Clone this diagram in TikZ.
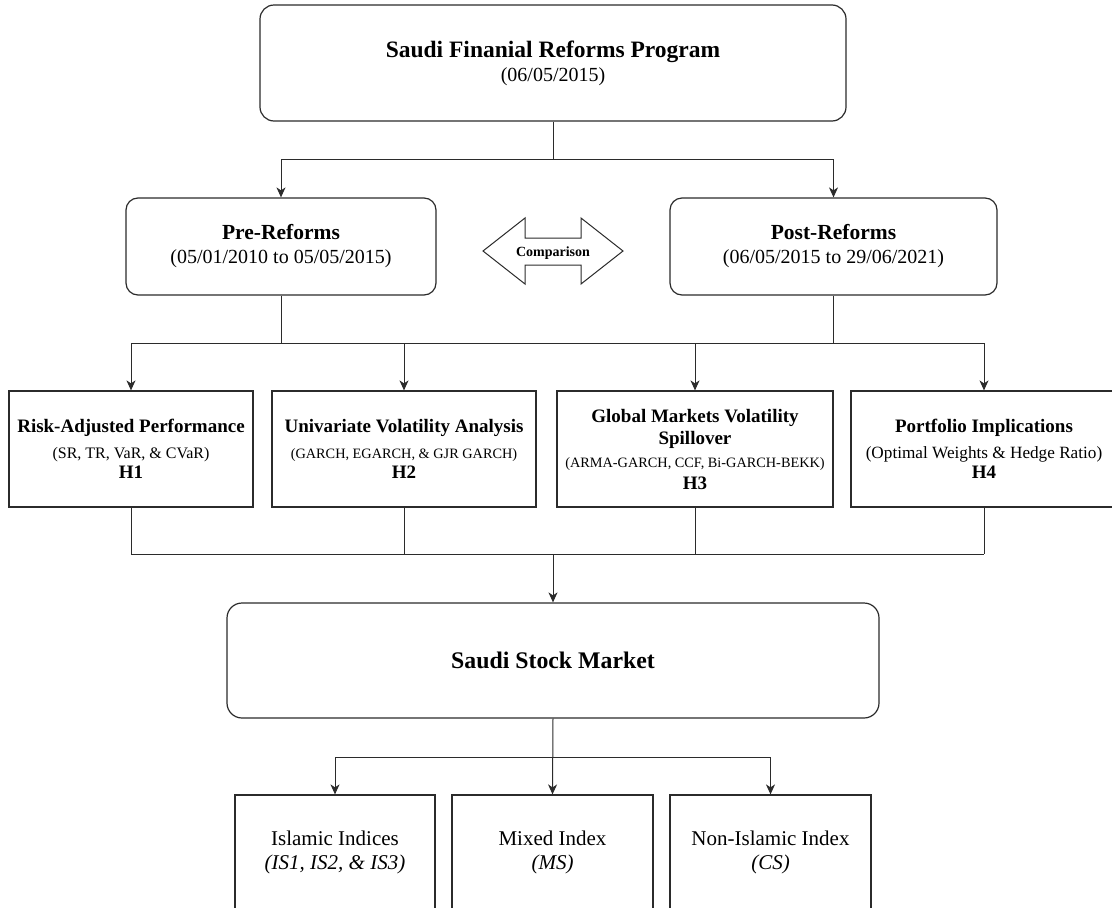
\documentclass[tikz,border=0pt]{standalone}
\usepackage{fontspec}
\setmainfont{Liberation Serif}
\usetikzlibrary{arrows.meta}
\definecolor{linec}{HTML}{2B2B2B}
\tikzset{
  box/.style={draw=linec, line width=1.2pt, fill=white, align=center, inner sep=0pt,
              font=\fontsize{19}{23}\selectfont},
  rbox/.style={box, rounded corners=14pt},
  conn/.style={draw=linec, line width=1pt},
  arr/.style={conn, -{Stealth[length=10pt,width=9pt,inset=3pt]}},
}
\newcommand{\hdln}[1]{{\bfseries #1}}
\newcommand{\subln}[2]{{\fontsize{#1}{23}\selectfont #2}}
\begin{document}
\begin{tikzpicture}[x=1pt,y=-1pt]
\useasboundingbox (0,0) rectangle (1112,908);
\clip (0,0) rectangle (1112,908);

% top
\node[rbox, minimum width=586pt, minimum height=116pt, font=\fontsize{23.5}{25}\selectfont] (top) at (553,63)
  {\hdln{Saudi Finanial Reforms Program}\\[-1pt]\subln{20}{(06/05/2015)}};

% pre / post
\node[rbox, rounded corners=12pt, minimum width=310pt, minimum height=97pt, font=\fontsize{21.5}{25}\selectfont] (pre) at (281,246.5)
  {\hdln{Pre-Reforms}\\[-1pt]\subln{20}{(05/01/2010 to 05/05/2015)}};
\node[rbox, rounded corners=12pt, minimum width=327pt, minimum height=97pt, font=\fontsize{21.5}{25}\selectfont] (post) at (833.5,246.5)
  {\hdln{Post-Reforms}\\[-1pt]\subln{20}{(06/05/2015 to 29/06/2021)}};

% comparison double arrow
\draw[draw=linec, line width=1pt, fill=white]
  (483,251) -- (525,218) -- (525,238) -- (581,238) -- (581,218) -- (623,251)
  -- (581,284) -- (581,265) -- (525,265) -- (525,284) -- cycle;
\node[font=\fontsize{14}{16}\selectfont\bfseries, inner sep=0pt] (cmp) at (553,253) {Comparison};

% four analysis boxes
\node[box, minimum width=244pt, minimum height=116pt] (r1) at (131,449)
  {\hdln{Risk-Adjusted Performance}\\[3pt]\subln{16}{(SR, TR, VaR, \& CVaR)}\\[-3pt]\hdln{H1}};
\node[box, minimum width=264pt, minimum height=116pt] (r2) at (404,449)
  {\hdln{Univariate Volatility Analysis}\\[3pt]\subln{14.3}{(GARCH, EGARCH, \& GJR GARCH)}\\[-3pt]\hdln{H2}};
\node[box, minimum width=276pt, minimum height=116pt] (r3) at (695,449)
  {\hdln{Global Markets Volatility}\\[-1pt]\hdln{Spillover}\\[0pt]\subln{14.3}{(ARMA-GARCH, CCF, Bi-GARCH-BEKK)}\\[-1pt]\hdln{H3}};
\node[box, minimum width=266pt, minimum height=116pt] (r4) at (984,449)
  {\hdln{Portfolio Implications}\\[3pt]\subln{17.2}{(Optimal Weights \& Hedge Ratio)}\\[-3pt]\hdln{H4}};

% stock market
\node[rbox, rounded corners=15pt, minimum width=652pt, minimum height=115pt, font=\fontsize{23.8}{26}\selectfont] (ssm) at (553,660.5)
  {\hdln{Saudi Stock Market}};

% bottom boxes (cut by the page edge)
\node[box, minimum width=200pt, minimum height=115pt, font=\fontsize{21}{24}\selectfont] (b1) at (335,852.5)
  {Islamic Indices\\{\itshape (IS1, IS2, \& IS3)}};
\node[box, minimum width=201pt, minimum height=115pt, font=\fontsize{21}{24}\selectfont] (b2) at (552.5,852.5)
  {Mixed Index\\{\itshape (MS)}};
\node[box, minimum width=201pt, minimum height=115pt, font=\fontsize{21}{24}\selectfont] (b3) at (770.5,852.5)
  {Non-Islamic Index\\{\itshape (CS)}};

% connectors
\draw[conn] (top.south) -- ++(0,38) coordinate (j1);
\draw[arr] (j1) -| (pre.north);
\draw[arr] (j1) -| (post.north);

\coordinate (bus1) at (0,343);
\draw[conn] (pre.south) -- (pre.south |- bus1);
\draw[conn] (post.south) -- (post.south |- bus1);
\draw[conn] (r1.north |- bus1) -- (r4.north |- bus1);
\foreach \r in {r1,r2,r3,r4} \draw[arr] (\r.north |- bus1) -- (\r.north);

\coordinate (bus2) at (0,554);
\foreach \r in {r1,r2,r3,r4} \draw[conn] (\r.south) -- (\r.south |- bus2);
\draw[conn] (r1.south |- bus2) -- (r4.south |- bus2);
\draw[arr] (ssm.north |- bus2) -- (ssm.north);

\coordinate (bus3) at (0,757);
\draw[conn] (b1.north |- bus3) -- (b3.north |- bus3);
\draw[arr] (ssm.south) -- (b2.north);
\draw[arr] (b1.north |- bus3) -- (b1.north);
\draw[arr] (b3.north |- bus3) -- (b3.north);
\end{tikzpicture}
\end{document}
